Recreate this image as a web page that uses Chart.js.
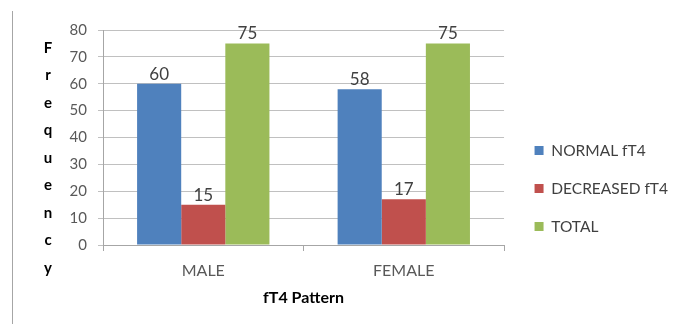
<!DOCTYPE html>
<html>
<head>
<meta charset="utf-8">
<script src="https://cdn.jsdelivr.net/npm/chart.js@4.4.1/dist/chart.umd.min.js"></script>
<style>
  html, body { margin: 0; padding: 0; background: #fff; }
  #wrap { position: relative; width: 684px; height: 324px; }
  #frame { position: absolute; left: 12px; top: 11px; width: 1px; height: 313px; background: #a6a6a6; }
</style>
</head>
<body>
<div id="wrap">
  <canvas id="c" width="684" height="324"></canvas>
  <div id="frame"></div>
</div>
<script>
// Frequency of fT4 pattern by sex
const categories = ['MALE', 'FEMALE'];
const normalFT4 = [60, 58];
const decreasedFT4 = [15, 17];
const totals = [75, 75];
const seriesNames = ['NORMAL fT4', 'DECREASED fT4', 'TOTAL'];
const seriesColors = ['#4F81BD', '#C0504D', '#9BBB59'];
const yTitle = 'Frequency';
const xTitle = 'fT4 Pattern';
const yMin = 0, yMax = 80, yStep = 10;

const FONT = 'Lato, "Open Sans", sans-serif';

// numbers printed above each bar
const valueLabels = {
  id: 'valueLabels',
  afterDatasetsDraw(chart) {
    const { ctx } = chart;
    ctx.save();
    ctx.font = '17px ' + FONT;
    ctx.fillStyle = '#404040';
    ctx.textAlign = 'center';
    ctx.textBaseline = 'alphabetic';
    chart.data.datasets.forEach((ds, i) => {
      chart.getDatasetMeta(i).data.forEach((bar, j) => {
        ctx.fillText(String(ds.data[j]), bar.x, bar.y - 4);
      });
    });
    ctx.restore();
  }
};

// y-axis title written letter by letter, top to bottom
const stackedTitle = {
  id: 'stackedTitle',
  afterDraw(chart) {
    const { ctx } = chart;
    ctx.save();
    ctx.font = 'bold 15px ' + FONT;
    ctx.fillStyle = '#000';
    ctx.textAlign = 'center';
    ctx.textBaseline = 'middle';
    Array.from(yTitle).forEach((ch, i) => {
      ctx.fillText(ch, 48, 48 + i * 27.5);
    });
    ctx.restore();
  }
};

new Chart(document.getElementById('c'), {
  type: 'bar',
  data: {
    labels: categories,
    datasets: [
      { label: seriesNames[0], data: normalFT4, backgroundColor: seriesColors[0] },
      { label: seriesNames[1], data: decreasedFT4, backgroundColor: seriesColors[1] },
      { label: seriesNames[2], data: totals, backgroundColor: seriesColors[2] }
    ]
  },
  options: {
    responsive: false,
    animation: false,
    devicePixelRatio: 1,
    layout: { padding: { top: 30, right: 6, bottom: 0, left: 0 } },
    datasets: { bar: { categoryPercentage: 0.66, barPercentage: 1, borderWidth: 0 } },
    plugins: {
      tooltip: { enabled: false },
      legend: {
        position: 'right',
        align: 'center',
        maxWidth: 220,
        title: { display: true, text: '', padding: { top: 11, bottom: 0 }, font: { size: 10 } },
        labels: {
          boxWidth: 9,
          boxHeight: 9,
          padding: 22.5,
          color: '#404040',
          font: { family: FONT, size: 15.5 }
        }
      }
    },
    scales: {
      x: {
        grid: { display: true, drawOnChartArea: false, drawTicks: true, tickLength: 6, color: '#a6a6a6', offset: true },
        border: { display: true, color: '#a6a6a6' },
        ticks: { color: '#595959', padding: 10, font: { family: FONT, size: 16 } },
        title: {
          display: true,
          text: xTitle,
          color: '#000',
          font: { family: FONT, size: 16, weight: 'bold' },
          padding: { top: 0, bottom: 17 }
        },
        afterFit(s) { s.height = 79; }
      },
      y: {
        min: yMin,
        max: yMax,
        ticks: { stepSize: yStep, color: '#595959', padding: 11, font: { family: FONT, size: 15 } },
        grid: { color: '#c0c0c0', tickLength: 5, drawTicks: true },
        border: { display: true, color: '#a6a6a6' },
        afterFit(s) { s.width = 103; }
      },
      legendGap: {
        type: 'linear',
        position: 'right',
        display: true,
        grid: { display: false },
        border: { display: false },
        ticks: { display: false },
        afterFit(s) { s.width = 8; }
      }
    }
  },
  plugins: [valueLabels, stackedTitle]
});
</script>
</body>
</html>
